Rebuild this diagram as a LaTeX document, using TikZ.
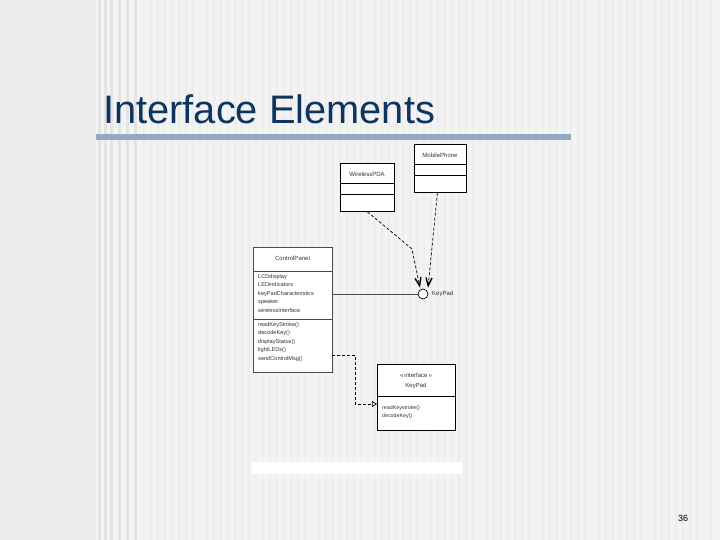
\documentclass[tikz,border=0pt]{standalone}
\usepackage{fontspec}
\setmainfont{Liberation Sans}
\usetikzlibrary{arrows.meta,calc}
\definecolor{bgmain}{HTML}{F3F3F3}
\definecolor{bgleft}{HTML}{EBEBEB}
\definecolor{stripe}{HTML}{E4E4E4}
\definecolor{finestripe}{HTML}{EDEDED}
\definecolor{titleblue}{RGB}{14,52,96}
\definecolor{barblue}{HTML}{92A9C4}
\definecolor{umltext}{HTML}{333333}
\tikzset{
  umlbox/.style={draw=black,fill=white,line width=0.8pt,inner sep=0,anchor=north west},
  tiny/.style={font=\fontsize{6}{7}\selectfont,text=umltext,inner sep=0},
  listtext/.style={tiny,anchor=north west,align=left,font=\fontsize{5.6}{8.5}\selectfont},
  dep/.style={draw=black,line width=0.7pt,dash pattern=on 3pt off 2pt,-{Straight Barb[length=8pt,width=6pt,line width=1.4pt]}},
  real/.style={draw=black,line width=0.7pt,dash pattern=on 3pt off 2pt,-{Triangle[open,length=5pt,width=6pt,fill=white]}},
  assoc/.style={draw=black!70,line width=0.6pt},
}
\begin{document}
\begin{tikzpicture}[x=1pt,y=-1pt]
\useasboundingbox (0,0) rectangle (720,540);
\fill[bgleft] (0,0) rectangle (720,540);
\fill[bgmain] (96,0) rectangle (720,540);
\foreach \x in {98,104,110,118,126,134} \fill[stripe] (\x,0) rectangle ++(3,540);
\foreach \x in {143,150,...,715} \fill[finestripe] (\x,0) rectangle ++(2,540);
% title
\node[anchor=base west,inner sep=0,text=titleblue,font=\fontsize{39.8}{44}\selectfont] (title) at (103,124) {Interface Elements};
\fill[barblue] (96,134) rectangle (571,140);
% MobilePhone
\node[umlbox,minimum width=52pt,minimum height=48pt] (mp) at (414,144) {};
\draw[line width=0.8pt] (414,164) -- (466,164) (414,175) -- (466,175);
\node[tiny] (mpt) at (440,155) {MobilePhone};
% WirelessPDA
\node[umlbox,minimum width=54pt,minimum height=48pt] (pda) at (340,163) {};
\draw[line width=0.8pt] (340,183) -- (394,183) (340,194) -- (394,194);
\node[tiny] (pdat) at (367,174) {WirelessPDA};
% ControlPanel
\node[umlbox,draw=black!70,minimum width=79pt,minimum height=125pt] (cp) at (253,247) {};
\draw[black!70,line width=0.6pt] (253,271) -- (332,271) (253,319) -- (332,319);
\node[tiny] (cpt) at (292.5,258) {ControlPanel};
\node[listtext] (cpa) at (258,274)
 {LCDdisplay\\LEDindicators\\keyPadCharacteristics\\speaker\\wirelessInterface};
\node[listtext] (cpm) at (258,322)
 {readKeyStroke()\\decodeKey()\\displayStatus()\\lightLEDs()\\sendControlMsg()};
% interface KeyPad
\node[umlbox,minimum width=78pt,minimum height=66pt] (ki) at (377,364) {};
\draw[line width=0.8pt] (377,396) -- (455,396);
\node[tiny] (kis) at (416,375) {\guillemotleft\,interface\,\guillemotright};
\node[tiny] (kin) at (416,386) {KeyPad};
\node[listtext,font=\fontsize{5.3}{8}\selectfont] (kim) at (382,405)
 {readKeystroke()\\decodeKey()};
% lollipop
\node[circle,draw=black,fill=white,line width=0.7pt,minimum size=10pt,inner sep=0] (kp) at (423,294) {};
\node[tiny,anchor=west] (kpl) at (432,293.5) {KeyPad};
% connectors
\draw[assoc] (cp.east |- kp.west) -- (kp.west);
\coordinate (bend) at (412,249);
\draw[dep] (pda.south) -- (bend) -- ($(kp.north)+(-3,-1)$);
\draw[dep] ($(mp.south)+(-3,0)$) -- ($(kp.north)+(5,-1)$);
\coordinate (cpout) at (332,355);
\coordinate (kiin) at (377,404);
\draw[real] (cpout) -- (355,355) |- (kiin);
% white strip
\fill[white] (252,462) rectangle (462,474);
% page number
\node[anchor=center,inner sep=0,font=\fontsize{9}{10}\selectfont] (pg) at (683,518) {36};
\end{tikzpicture}
\end{document}
